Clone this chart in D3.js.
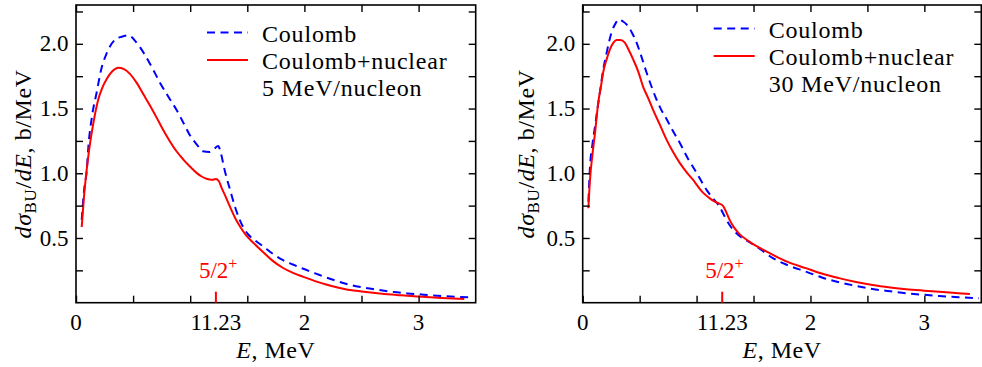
<!DOCTYPE html>
<html>
<head>
<meta charset="utf-8">
<script src="https://cdn.jsdelivr.net/npm/d3@7"></script>
</head>
<body style="margin:0">
<svg id="chart" width="982" height="367"></svg>
<script>
// E, MeV  ->  dsigma/dE, b/MeV
const coulomb5 = [
  [0.05,0.64],[0.07,0.86],[0.095,1.03],[0.108,1.2],[0.14,1.44],[0.18,1.62],[0.22,1.80],
  [0.27,1.93],[0.34,2.03],[0.40,2.055],[0.46,2.065],[0.53,2.01],[0.60,1.92],[0.67,1.81],
  [0.735,1.70],[0.81,1.59],[0.88,1.49],[0.94,1.39],[1.0,1.29],[1.06,1.22],[1.11,1.17],
  [1.17,1.165],[1.21,1.19],[1.245,1.21],[1.27,1.15],[1.30,1.03],[1.35,0.87],[1.40,0.72],
  [1.46,0.59],[1.51,0.525],[1.57,0.48],[1.64,0.434],[1.72,0.38],[1.81,0.33],[1.90,0.295],
  [1.99,0.262],[2.1,0.225],[2.19,0.195],[2.3,0.163],[2.40,0.138],[2.5,0.12],[2.60,0.105],
  [2.7,0.092],[2.81,0.08],[2.9,0.072],[3.0,0.065],[3.2,0.052],[3.45,0.042]
];
const nuclear5 = [
  [0.05,0.585],[0.07,0.82],[0.094,1.03],[0.115,1.18],[0.137,1.31],[0.165,1.45],[0.195,1.57],
  [0.23,1.66],[0.27,1.73],[0.32,1.79],[0.37,1.815],[0.42,1.805],[0.47,1.77],[0.53,1.70],
  [0.59,1.61],[0.65,1.52],[0.706,1.43],[0.76,1.34],[0.82,1.25],[0.88,1.17],[0.94,1.106],
  [1.0,1.05],[1.056,1.003],[1.10,0.975],[1.143,0.958],[1.19,0.95],[1.225,0.955],[1.25,0.94],
  [1.275,0.887],[1.31,0.82],[1.347,0.744],[1.39,0.66],[1.435,0.59],[1.49,0.52],[1.55,0.465],
  [1.64,0.39],[1.72,0.325],[1.81,0.27],[1.90,0.23],[1.99,0.2],[2.1,0.165],[2.19,0.14],
  [2.3,0.116],[2.40,0.098],[2.5,0.087],[2.60,0.077],[2.7,0.068],[2.81,0.06],[2.9,0.053],
  [3.0,0.047],[3.2,0.037],[3.4,0.029]
];
const coulomb30 = [
  [0.05,0.78],[0.064,1.05],[0.085,1.22],[0.108,1.36],[0.13,1.50],[0.15,1.62],[0.18,1.80],
  [0.21,1.93],[0.254,2.09],[0.29,2.16],[0.318,2.19],[0.35,2.175],[0.385,2.15],[0.43,2.09],
  [0.473,2.01],[0.52,1.89],[0.56,1.78],[0.60,1.68],[0.648,1.57],[0.69,1.49],[0.736,1.42],
  [0.79,1.33],[0.852,1.236],[0.92,1.12],[1.0,1.003],[1.086,0.874],[1.14,0.81],[1.20,0.744],
  [1.25,0.66],[1.29,0.60],[1.33,0.555],[1.377,0.515],[1.45,0.475],[1.55,0.42],[1.67,0.344],
  [1.8,0.29],[1.96,0.24],[2.1,0.195],[2.25,0.158],[2.4,0.13],[2.545,0.106],[2.7,0.088],
  [2.84,0.073],[3.0,0.061],[3.13,0.052],[3.3,0.042],[3.48,0.034]
];
const nuclear30 = [
  [0.05,0.73],[0.064,0.95],[0.085,1.14],[0.108,1.31],[0.137,1.55],[0.16,1.67],[0.18,1.78],
  [0.21,1.88],[0.24,1.96],[0.27,2.01],[0.298,2.03],[0.33,2.03],[0.37,2.01],[0.40,1.96],
  [0.443,1.88],[0.49,1.78],[0.53,1.67],[0.575,1.58],[0.618,1.49],[0.68,1.37],[0.736,1.26],
  [0.79,1.17],[0.852,1.08],[0.91,1.01],[0.968,0.95],[1.01,0.90],[1.056,0.85],[1.11,0.81],
  [1.16,0.78],[1.20,0.765],[1.23,0.75],[1.26,0.70],[1.29,0.64],[1.33,0.58],[1.377,0.53],
  [1.45,0.48],[1.55,0.425],[1.67,0.37],[1.8,0.315],[1.96,0.267],[2.1,0.225],[2.25,0.19],
  [2.4,0.16],[2.545,0.137],[2.7,0.118],[2.84,0.104],[3.0,0.093],[3.13,0.085],[3.25,0.077],
  [3.40,0.067]
];

const xTicks = [0, 0.5, 1, 1.5, 2, 2.5, 3];
const xLabels = [[0, "0"], [1.225, "11.23"], [2, "2"], [3, "3"]];
const yTicks = [0.25, 0.5, 0.75, 1, 1.25, 1.5, 1.75, 2, 2.25];
const yLabels = [0.5, 1, 1.5, 2];
const resonanceE = 1.225;
const legendNames = ["Coulomb", "Coulomb+nuclear"];
const energies = ["5 MeV/nucleon", "30 MeV/nucleon"];

const panels = [
  {left: 76, right: 475.7, coul: coulomb5, nuc: nuclear5, energy: energies[0], legY: 0, labX: 31},
  {left: 582.7, right: 981.3, coul: coulomb30, nuc: nuclear30, energy: energies[1], legY: -4, labX: 534}
];
const plotTop = 5, plotBottom = 302.7, tickLen = 7;
const FONT = "Liberation Serif";

const svg = d3.select("#chart");

// all text goes straight onto the svg root
function label(x, y, size) {
  return svg.append("text").attr("x", x).attr("y", y)
    .attr("font-family", FONT).attr("font-size", size).attr("fill", "#000");
}

panels.forEach(p => {
  const x = d3.scaleLinear().domain([0, 3.5]).range([p.left, p.right]);
  const y = d3.scaleLinear().domain([0, 2.3]).range([plotBottom, plotTop]);
  const g = svg.append("g");

  const line = d3.line().x(d => x(d[0])).y(d => y(d[1])).curve(d3.curveMonotoneX);

  g.append("path").datum(p.coul)
    .attr("d", line).attr("fill", "none")
    .attr("stroke", "#0000ff").attr("stroke-width", 2)
    .attr("stroke-dasharray", "8,5.5");
  g.append("path").datum(p.nuc)
    .attr("d", line).attr("fill", "none")
    .attr("stroke", "#ff0000").attr("stroke-width", 2);

  // tick marks only, pointing inward on all four sides
  const ticksOnly = s => {
    s.select(".domain").remove();
    s.selectAll("text").remove();
    s.selectAll("line").attr("stroke", "#000").attr("stroke-width", 1.4);
  };
  g.append("g").attr("transform", `translate(0,${plotBottom})`)
    .call(d3.axisBottom(x).tickValues(xTicks).tickSize(-tickLen)).call(ticksOnly);
  g.append("g").attr("transform", `translate(0,${plotTop})`)
    .call(d3.axisTop(x).tickValues(xTicks).tickSize(-tickLen)).call(ticksOnly);
  g.append("g").attr("transform", `translate(${p.left},0)`)
    .call(d3.axisLeft(y).tickValues(yTicks).tickSize(-tickLen)).call(ticksOnly);
  g.append("g").attr("transform", `translate(${p.right},0)`)
    .call(d3.axisRight(y).tickValues(yTicks).tickSize(-tickLen)).call(ticksOnly);

  g.append("rect")
    .attr("x", p.left).attr("y", plotTop)
    .attr("width", p.right - p.left).attr("height", plotBottom - plotTop)
    .attr("fill", "none").attr("stroke", "#000").attr("stroke-width", 1.6);

  // tick labels
  xLabels.forEach(([v, t]) => {
    label(x(v), plotBottom + 27, 23).attr("text-anchor", "middle").text(t);
  });
  yLabels.forEach(v => {
    label(p.left - 7.5, y(v), 23).attr("text-anchor", "end").attr("dy", "0.33em")
      .text(d3.format(".1f")(v));
  });

  // resonance 5/2+
  g.append("line")
    .attr("x1", x(resonanceE)).attr("x2", x(resonanceE))
    .attr("y1", plotBottom - 11).attr("y2", plotBottom)
    .attr("stroke", "#ff0000").attr("stroke-width", 2);
  const rt = label(x(resonanceE) - 17, 278, 23).attr("fill", "#ff0000");
  rt.append("tspan").text("5/2");
  rt.append("tspan").attr("dy", -9).attr("font-size", 16).text("+");

  // legend
  const lx = p.left + 131, tx = p.left + 186;
  const ly = [32.5, 60].map(v => v + p.legY);
  g.append("line").attr("x1", lx).attr("x2", lx + 41).attr("y1", ly[0]).attr("y2", ly[0])
    .attr("stroke", "#0000ff").attr("stroke-width", 2).attr("stroke-dasharray", "8,5.5");
  g.append("line").attr("x1", lx).attr("x2", lx + 41).attr("y1", ly[1]).attr("y2", ly[1])
    .attr("stroke", "#ff0000").attr("stroke-width", 2);
  [legendNames[0], legendNames[1], p.energy].forEach((t, i) => {
    label(tx, 42 + p.legY + i * 26.8, 24).attr("letter-spacing", 0.8).text(t);
  });

  // axis titles
  const xl = label((p.left + p.right) / 2, 358, 24)
    .attr("text-anchor", "middle").attr("letter-spacing", 0.5);
  xl.append("tspan").attr("font-style", "italic").text("E");
  xl.append("tspan").text(", MeV");

  const yl = label(0, 0, 24)
    .attr("transform", `translate(${p.labX},${(plotTop + plotBottom) / 2}) rotate(-90)`)
    .attr("text-anchor", "middle").attr("letter-spacing", 0.6);
  yl.append("tspan").attr("font-style", "italic").text("dσ");
  yl.append("tspan").attr("dy", 5).attr("font-size", 17).text("BU");
  yl.append("tspan").attr("dy", -5).text("/");
  yl.append("tspan").attr("font-style", "italic").text("dE");
  yl.append("tspan").text(", b/MeV");
});
</script>
</body>
</html>
